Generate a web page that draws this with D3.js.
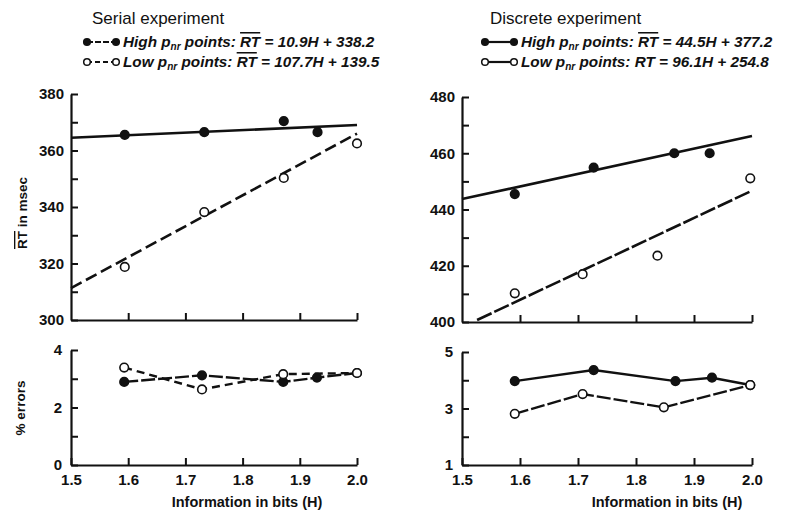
<!DOCTYPE html>
<html>
<head>
<meta charset="utf-8">
<script src="https://cdn.jsdelivr.net/npm/d3@7"></script>
<style>
body{margin:0;background:#fff;}
text{font-family:"Liberation Sans",Arial,sans-serif;fill:#111;}
</style>
</head>
<body>
<div id="chart"></div>
<script>
var w=787, h=514;

// x values (information in bits)
var hTicks=[1.5,1.6,1.7,1.8,1.9,2.0];

// Serial experiment
var serialHighH=[1.594,1.733,1.872,1.931];
var serialHighRT=[365.5,366.5,370.4,366.5];
var serialLowH=[1.594,1.733,1.872,2.0];
var serialLowRT=[318.8,338.2,350.3,362.5];
var serialHighFitH=[1.5,2.0];
var serialHighFitRT=[364.5,369.0];
var serialLowFitH=[1.5,2.0];
var serialLowFitRT=[311.3,366.0];
var serialErrHighH=[1.593,1.729,1.871,1.930,2.0];
var serialErrHigh=[2.89,3.12,2.89,3.04,3.2];
var serialErrLowH=[1.593,1.729,1.871,2.0];
var serialErrLow=[3.39,2.63,3.16,3.2];

// Discrete experiment
var discHighH=[1.591,1.727,1.866,1.927];
var discHighRT=[445.5,454.9,460.0,460.0];
var discLowH=[1.591,1.708,1.837,1.997];
var discLowRT=[410.2,417.0,423.6,451.1];
var discHighFitH=[1.5,2.0];
var discHighFitRT=[443.7,466.1];
var discLowFitH=[1.526,2.0];
var discLowFitRT=[400.7,446.7];
var discErrHighH=[1.591,1.727,1.868,1.931,1.997];
var discErrHigh=[3.97,4.36,3.97,4.09,3.83];
var discErrLowH=[1.591,1.708,1.848,1.997];
var discErrLow=[2.81,3.51,3.04,3.83];

function zip(xs,ys){return xs.map(function(x,i){return {x:x,y:ys[i]};});}

var svg=d3.select("#chart").append("svg")
          .attr("width",w)
          .attr("height",h);

//Draw one experiment panel (RT plot on top, errors below)
function drawPanel(p){
    var x=d3.scaleLinear().domain([1.5,2.0]).range(p.xRange);
    var yT=d3.scaleLinear().domain(p.rtDomain).range(p.rtRange);
    var yB=d3.scaleLinear().domain(p.errDomain).range(p.errRange);

    var g=svg.append("g");

    // top axes
    var rtTicks=d3.range(p.rtDomain[0],p.rtDomain[1]+1,10);
    g.append("g")
     .attr("transform","translate("+p.xRange[0]+",0)")
     .call(d3.axisLeft(yT).tickValues(rtTicks).tickSizeInner(-7).tickSizeOuter(0).tickPadding(7)
           .tickFormat(function(d){return d%20==0?d:"";}));
    g.append("g")
     .attr("transform","translate(0,"+p.rtRange[0]+")")
     .call(d3.axisBottom(x).tickValues(hTicks.slice(1)).tickSizeInner(-7).tickSizeOuter(0).tickFormat(""));

    // bottom axes
    var errTicks=d3.range(p.errDomain[0],p.errDomain[1]+1,1);
    g.append("g")
     .attr("transform","translate("+p.xRange[0]+",0)")
     .call(d3.axisLeft(yB).tickValues(errTicks).tickSizeInner(-7).tickSizeOuter(0).tickPadding(9)
           .tickFormat(function(d){return (d-p.errDomain[0])%2==0?d:"";}));
    g.append("g")
     .attr("transform","translate(0,"+p.errRange[0]+")")
     .call(d3.axisBottom(x).tickValues(hTicks).tickSizeInner(-7).tickSizeOuter(0).tickPadding(9)
           .tickFormat(d3.format(".1f")));

    g.selectAll(".domain").attr("stroke","#111").attr("stroke-width",2.2);
    g.selectAll(".tick line").attr("stroke","#111").attr("stroke-width",2);
    g.selectAll(".tick text").attr("font-size",15).attr("font-weight","bold")
     .attr("font-family","Liberation Sans, Arial, sans-serif").attr("fill","#111");

    g.append("text")
     .attr("x",p.xLabel)
     .attr("y",507)
     .attr("text-anchor","middle")
     .attr("font-size",14.5)
     .attr("font-weight","bold")
     .text("Information in bits (H)");

    var lineT=d3.line().x(function(d){return x(d.x);}).y(function(d){return yT(d.y);});
    var lineB=d3.line().x(function(d){return x(d.x);}).y(function(d){return yB(d.y);});

    // regression lines
    g.append("path").datum(zip(p.highFitH,p.highFitRT)).attr("d",lineT)
     .attr("fill","none").attr("stroke","#111").attr("stroke-width",2.6);
    g.append("path").datum(zip(p.lowFitH,p.lowFitRT)).attr("d",lineT)
     .attr("fill","none").attr("stroke","#111").attr("stroke-width",2.6)
     .attr("stroke-dasharray",p.lowDash);

    // error lines
    g.append("path").datum(zip(p.errHighH,p.errHigh)).attr("d",lineB)
     .attr("fill","none").attr("stroke","#111").attr("stroke-width",2.4)
     .attr("stroke-dasharray",p.errHighDash);
    g.append("path").datum(zip(p.errLowH,p.errLow)).attr("d",lineB)
     .attr("fill","none").attr("stroke","#111").attr("stroke-width",2.4)
     .attr("stroke-dasharray",p.errLowDash);

    // points
    function dots(data,yS,filled){
        g.append("g").selectAll("circle")
         .data(data).enter()
         .append("circle")
         .attr("cx",function(d){return x(d.x);})
         .attr("cy",function(d){return yS(d.y);})
         .attr("r",4.3)
         .attr("fill",filled?"#111":"#fff")
         .attr("stroke","#111")
         .attr("stroke-width",1.6);
    }
    dots(zip(p.highH,p.highRT),yT,true);
    dots(zip(p.lowH,p.lowRT),yT,false);
    dots(zip(p.errHighH,p.errHigh),yB,true);
    dots(zip(p.errLowH,p.errLow),yB,false);

    // title and legend
    g.append("text").attr("x",p.titleX).attr("y",24)
     .attr("font-size",17).text(p.title);

    function legendRow(y,filled,dash,eq,bar){
        var lx=p.titleX-5;
        g.append("line").attr("x1",lx).attr("x2",lx+29).attr("y1",y-5).attr("y2",y-5)
         .attr("stroke","#111").attr("stroke-width",2.2).attr("stroke-dasharray",dash);
        [lx,lx+29].forEach(function(cx){
            g.append("circle").attr("cx",cx).attr("cy",y-5).attr("r",3.3)
             .attr("fill",filled?"#111":"#fff").attr("stroke","#111").attr("stroke-width",1.5);
        });
        var t=g.append("text").attr("x",lx+36).attr("y",y)
               .attr("font-size",15.3).attr("font-style","italic").attr("font-weight","bold");
        t.append("tspan").text((filled?"High":"Low")+" p");
        t.append("tspan").attr("font-size",10).attr("dy",3).text("nr");
        t.append("tspan").attr("dy",-3).text(" points: ");
        t.append("tspan").style("text-decoration",bar?"overline":"none").text("RT");
        t.append("tspan").text(" = "+eq);
    }
    legendRow(47,true,p.legendHighDash,p.highEq,true);
    legendRow(67,false,p.legendLowDash,p.lowEq,p.lowBar);
}

drawPanel({
    title:"Serial experiment", titleX:92, xLabel:247,
    xRange:[71,357], rtDomain:[300,380], rtRange:[320,94], errDomain:[0,4], errRange:[465,350],
    highH:serialHighH, highRT:serialHighRT, lowH:serialLowH, lowRT:serialLowRT,
    highFitH:serialHighFitH, highFitRT:serialHighFitRT, lowFitH:serialLowFitH, lowFitRT:serialLowFitRT,
    errHighH:serialErrHighH, errHigh:serialErrHigh, errLowH:serialErrLowH, errLow:serialErrLow,
    lowDash:"12,5", errHighDash:"14,3", errLowDash:"8,5",
    legendHighDash:"6,2", legendLowDash:"5,3",
    highEq:"10.9H + 338.2", lowEq:"107.7H + 139.5", lowBar:true
});

drawPanel({
    title:"Discrete experiment", titleX:490, xLabel:667,
    xRange:[462,752], rtDomain:[400,480], rtRange:[322,97], errDomain:[1,5], errRange:[465,352],
    highH:discHighH, highRT:discHighRT, lowH:discLowH, lowRT:discLowRT,
    highFitH:discHighFitH, highFitRT:discHighFitRT, lowFitH:discLowFitH, lowFitRT:discLowFitRT,
    errHighH:discErrHighH, errHigh:discErrHigh, errLowH:discErrLowH, errLow:discErrLow,
    lowDash:"16,3", errHighDash:"none", errLowDash:"14,3",
    legendHighDash:"none", legendLowDash:"none",
    highEq:"44.5H + 377.2", lowEq:"96.1H + 254.8", lowBar:false
});

// y axis titles (left panel only)
var yl=svg.append("text")
   .attr("transform","translate(27,213)rotate(-90)")
   .attr("text-anchor","middle")
   .attr("font-size",13.5)
   .attr("font-weight","bold");
yl.append("tspan").style("text-decoration","overline").text("RT");
yl.append("tspan").text(" in msec");

svg.append("text")
   .attr("transform","translate(25,408)rotate(-90)")
   .attr("text-anchor","middle")
   .attr("font-size",13.5)
   .attr("font-weight","bold")
   .text("% errors");
</script>
</body>
</html>
